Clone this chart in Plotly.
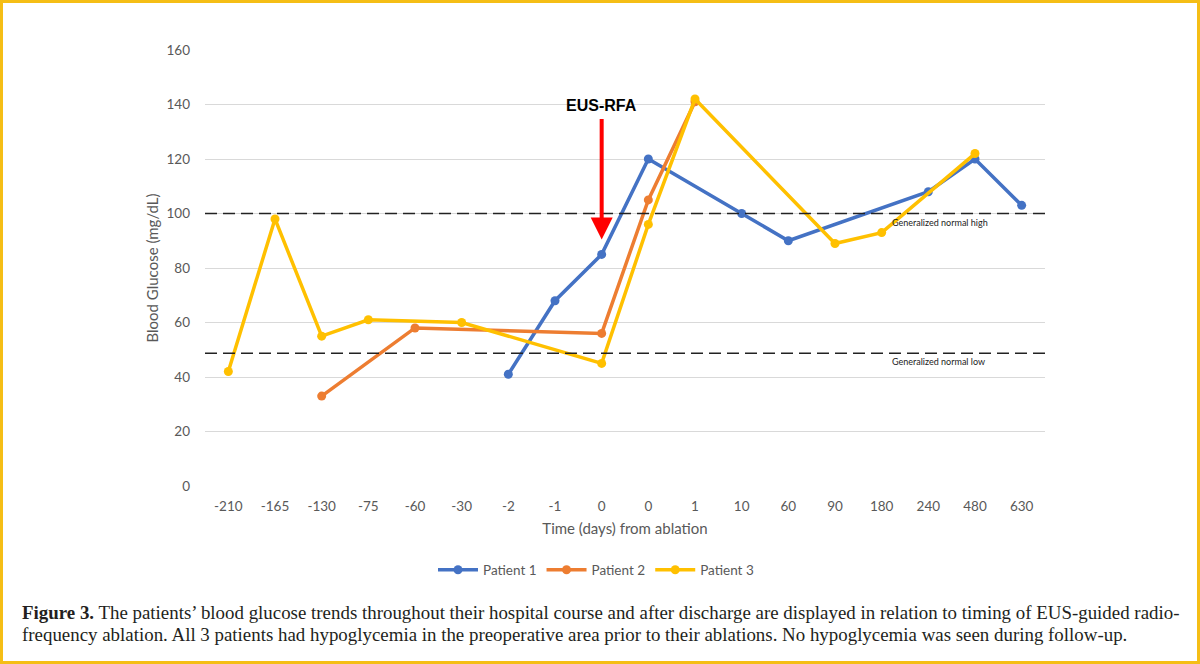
import plotly.graph_objects as go

# Categories (x axis has two "0" entries)
categories = ["-210", "-165", "-130", "-75", "-60", "-30", "-2", "-1", "0", "0",
              "1", "10", "60", "90", "180", "240", "480", "630"]

patient1 = [None, None, None, None, None, None, 41, 68, 85, 120,
            None, 100, 90, None, None, 108, 120, 103]
patient2 = [None, None, 33, None, 58, None, None, None, 56, 105,
            141, None, None, None, None, None, None, None]
patient3 = [42, 98, 55, 61, None, 60, None, None, 45, 96,
            142, None, None, 89, 93, None, 122, None]

series_names = ["Patient 1", "Patient 2", "Patient 3"]
series_colors = ["#4472C4", "#ED7D31", "#FFC000"]

NORMAL_HIGH = 100
NORMAL_LOW = 48.7
y_ticks = [0, 20, 40, 60, 80, 100, 120, 140, 160]

idx = list(range(len(categories)))

fig = go.Figure()
for name, vals, col in zip(series_names, [patient1, patient2, patient3], series_colors):
    fig.add_trace(go.Scatter(
        x=idx, y=vals, name=name, mode="lines+markers",
        connectgaps=True,
        line=dict(color=col, width=3.5),
        marker=dict(color=col, size=9),
    ))

# Plot area pixel geometry helpers (for paper coords of outside elements)
L, R, T, B = 205, 1045, 50, 486
W, H = R - L, B - T
def px(x):
    return (x - L) / W
def py(y):
    return (B - y) / H

shapes = [
    dict(type="line", xref="paper", yref="y", x0=0, x1=1, y0=NORMAL_HIGH, y1=NORMAL_HIGH,
         line=dict(color="#222222", width=1.5, dash="12px,6px")),
    dict(type="line", xref="paper", yref="y", x0=0, x1=1, y0=NORMAL_LOW, y1=NORMAL_LOW,
         line=dict(color="#222222", width=1.5, dash="12px,6px")),
    # outer gold frame
    dict(type="rect", xref="paper", yref="paper", x0=px(1.5), x1=px(1198.5), y0=py(1.5), y1=py(662.5),
         line=dict(color="#F5BE16", width=3), fillcolor="rgba(0,0,0,0)", layer="above"),
]

annotations = [
    dict(x=8, y=90.5, xref="x", yref="y", text="", showarrow=True,
         ax=0, ay=-122, arrowhead=2, arrowsize=1.1, arrowwidth=4, arrowcolor="#FF0000"),
    dict(x=8, y=139.5, xref="x", yref="y", text="<b>EUS-RFA</b>", showarrow=False,
         font=dict(family="Liberation Sans, Arial", size=16, color="#000000"), xanchor="center"),
    dict(x=px(890), y=NORMAL_HIGH, xref="paper", yref="y", text="Generalized normal high",
         showarrow=False, xanchor="left", yanchor="top", yshift=-1,
         font=dict(family="Lato, Open Sans", size=9, color="#222222")),
    dict(x=px(890), y=NORMAL_LOW, xref="paper", yref="y", text="Generalized normal low",
         showarrow=False, xanchor="left", yanchor="top", yshift=-1,
         font=dict(family="Lato, Open Sans", size=9, color="#222222")),
    dict(x=px(20), y=py(612), xref="paper", yref="paper", xanchor="left", yanchor="middle",
         showarrow=False,
         text="<b>Figure 3.</b> The patients’ blood glucose trends throughout their hospital course and after discharge are displayed in relation to timing of EUS-guided radio-",
         font=dict(family="Liberation Serif, DejaVu Serif", size=18.9, color="#231F20")),
    dict(x=px(20), y=py(634), xref="paper", yref="paper", xanchor="left", yanchor="middle",
         showarrow=False,
         text="frequency ablation. All 3 patients had hypoglycemia in the preoperative area prior to their ablations. No hypoglycemia was seen during follow-up.",
         font=dict(family="Liberation Serif, DejaVu Serif", size=18.9, color="#231F20")),
]

fig.update_layout(
    width=1200, height=664,
    margin=dict(l=L, r=1200 - R, t=T, b=664 - B),
    paper_bgcolor="white", plot_bgcolor="white",
    showlegend=True,
    legend=dict(orientation="h", x=px(596), xanchor="center", y=py(570), yanchor="middle",
                font=dict(family="Lato, Open Sans", size=13.5, color="#595959"),
                itemwidth=40, tracegroupgap=0),
    shapes=shapes,
    annotations=annotations,
    xaxis=dict(
        tickmode="array", tickvals=idx, ticktext=categories,
        range=[-0.5, len(categories) - 0.5],
        showgrid=False, zeroline=False, showline=False, ticks="",
        ticklabelstandoff=10,
        tickfont=dict(family="Lato, Open Sans", size=13.5, color="#595959"),
        title=dict(text="Time (days) from ablation", standoff=10,
                   font=dict(family="Lato, Open Sans", size=15, color="#595959")),
    ),
    yaxis=dict(
        range=[0, 160], tickvals=y_ticks,
        showgrid=True, gridcolor="#D9D9D9", gridwidth=1, zeroline=False, showline=False,
        ticks="", ticklabelstandoff=14,
        tickfont=dict(family="Lato, Open Sans", size=13.5, color="#595959"),
        title=dict(text="Blood Glucose (mg/dL)", standoff=4,
                   font=dict(family="Lato, Open Sans", size=15, color="#595959")),
    ),
)

fig.write_html("out.html")
